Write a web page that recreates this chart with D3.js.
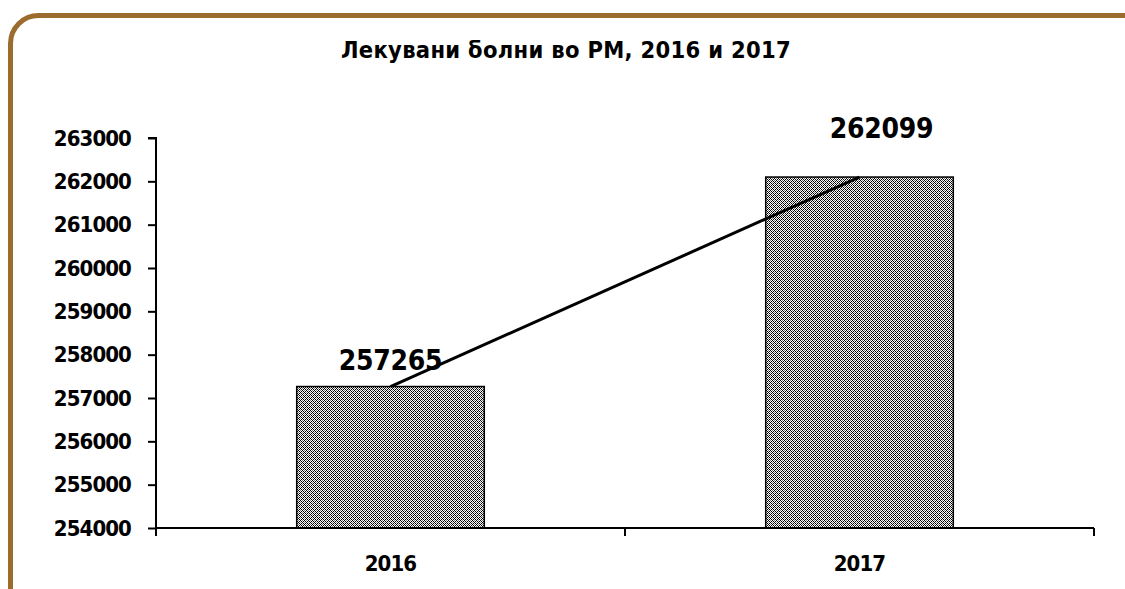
<!DOCTYPE html>
<html lang="mk">
<head>
<meta charset="UTF-8">
<title>Лекувани болни во РМ, 2016 и 2017</title>
<style>
  html, body { margin: 0; padding: 0; background: #fff; overflow: hidden; }
  svg { display: block; }
  text { font-family: 'DejaVu Sans Condensed', 'DejaVu Sans', sans-serif; font-weight: bold; fill: #000; }
</style>
</head>
<body>
<svg width="1125" height="589"></svg>
<script src="https://d3js.org/d3.v7.min.js"></script>
<script>
const title = "Лекувани болни во РМ, 2016 и 2017";
const years = ["2016", "2017"];
const patients = [257265, 262099];
const yTicks = [254000, 255000, 256000, 257000, 258000, 259000, 260000, 261000, 262000, 263000];
// label nudges (dx, dy) as placed in the original
const labelNudge = [[0, -17], [22, -39]];

const svg = d3.select("svg");

// dotted fill like the office pattern
const defs = svg.append("defs");
const pat = defs.append("pattern")
  .attr("id", "dots")
  .attr("width", 4).attr("height", 4)
  .attr("patternUnits", "userSpaceOnUse");
pat.append("rect").attr("width", 4).attr("height", 4).attr("fill", "#fff");
[[0,0,"#000"],[1,1,"#000"],[3,1,"#000"],[2,2,"#000"],[1,3,"#000"],[3,3,"#000"],[2,0,"#777"],[0,2,"#777"]]
  .forEach(([a, b, c]) => {
    pat.append("rect").attr("x", a).attr("y", b).attr("width", 1).attr("height", 1)
      .attr("fill", c).attr("shape-rendering", "crispEdges");
  });

// frame
svg.append("rect")
  .attr("x", 10.5).attr("y", 15.5)
  .attr("width", 1140).attr("height", 600)
  .attr("rx", 28).attr("ry", 28)
  .attr("fill", "none")
  .attr("stroke", "#9c6b2e")
  .attr("stroke-width", 5);

svg.append("text")
  .attr("x", 566).attr("y", 58)
  .attr("text-anchor", "middle")
  .attr("font-size", 23.5)
  .attr("letter-spacing", 0.3)
  .text(title);

const x = d3.scaleBand().domain(years).range([156, 1094]).paddingInner(0.6).paddingOuter(0.3);
const y = d3.scaleLinear().domain([254000, 263000]).range([528, 138]);

// bars
svg.selectAll(".bar")
  .data(patients)
  .enter().append("rect")
  .attr("class", "bar")
  .attr("x", (d, i) => x(years[i]))
  .attr("y", d => y(d))
  .attr("width", x.bandwidth())
  .attr("height", d => y.range()[0] - y(d))
  .attr("fill", "url(#dots)")
  .attr("stroke", "#000")
  .attr("stroke-width", 1.5);

// y axis
const yAxis = svg.append("g")
  .attr("transform", "translate(156,0)")
  .call(d3.axisLeft(y).tickValues(yTicks).tickSize(8).tickPadding(17).tickFormat(d3.format("d")));
yAxis.select(".domain").attr("stroke-width", 2).attr("d", `M-8,${y(263000)}H0V${y(254000)}`);
yAxis.selectAll(".tick line").attr("stroke-width", 2);
yAxis.selectAll("text")
  .attr("font-size", 22)
  .attr("letter-spacing", -0.9);

// x axis line and boundary ticks
const x0 = x.range()[0];
svg.append("line")
  .attr("x1", x0).attr("x2", x.range()[1])
  .attr("y1", y(254000)).attr("y2", y(254000))
  .attr("stroke", "#000").attr("stroke-width", 2);
svg.selectAll(".xtick")
  .data(d3.range(years.length + 1))
  .enter().append("line")
  .attr("x1", i => x0 + i * x.step()).attr("x2", i => x0 + i * x.step())
  .attr("y1", y(254000)).attr("y2", y(254000) + 8)
  .attr("stroke", "#000").attr("stroke-width", 2);
svg.selectAll(".xlab")
  .data(years)
  .enter().append("text")
  .attr("x", d => x(d) + x.bandwidth() / 2)
  .attr("y", 571)
  .attr("text-anchor", "middle")
  .attr("font-size", 22)
  .attr("letter-spacing", -0.9)
  .text(d => d);

// connecting line
const line = d3.line()
  .x((d, i) => x(years[i]) + x.bandwidth() / 2)
  .y(d => y(d));
svg.append("path")
  .datum(patients)
  .attr("d", line)
  .attr("fill", "none")
  .attr("stroke", "#000")
  .attr("stroke-width", 3);

// value labels
svg.selectAll(".vlab")
  .data(patients)
  .enter().append("text")
  .attr("x", (d, i) => x(years[i]) + x.bandwidth() / 2 + labelNudge[i][0])
  .attr("y", (d, i) => y(d) + labelNudge[i][1])
  .attr("text-anchor", "middle")
  .attr("font-size", 28)
  .attr("letter-spacing", -0.3)
  .text(d => d);
</script>
</body>
</html>
